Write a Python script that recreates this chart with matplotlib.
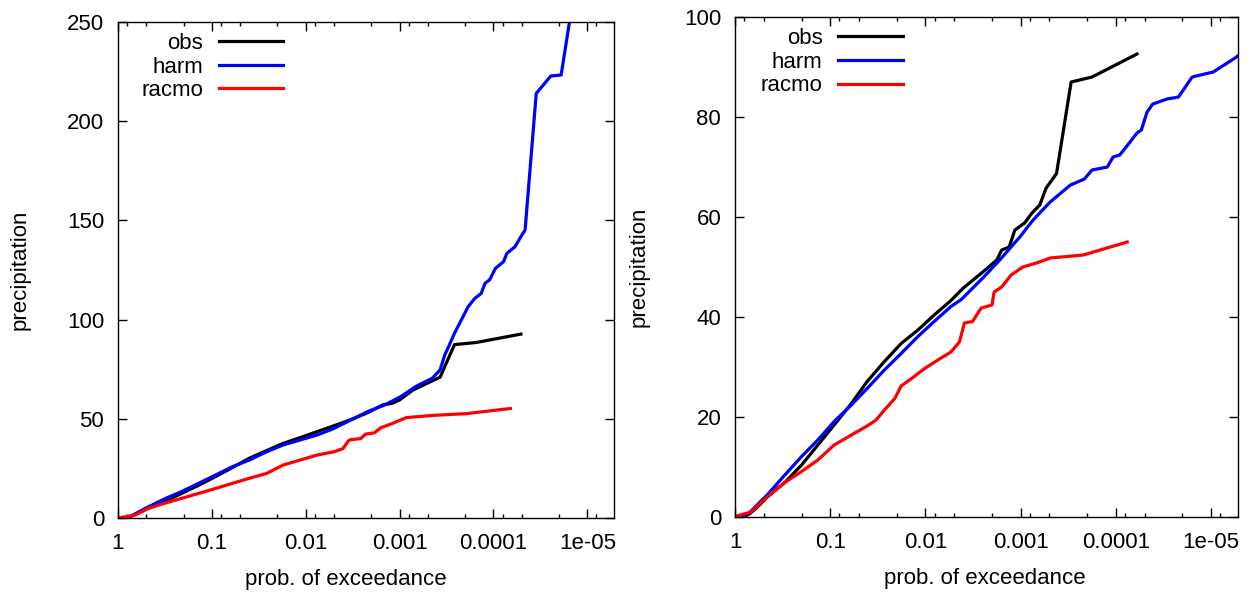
import matplotlib
matplotlib.use("Agg")
from matplotlib import pyplot as plt, ticker

plt.rcParams["font.family"] = ["Liberation Sans", "DejaVu Sans"]

# 左图数据 (prob. of exceedance, precipitation)
obs_left_p = [0.84, 0.71, 0.51, 0.31, 0.21, 0.138, 0.091, 0.060, 0.040, 0.026, 0.0174, 0.0115,
              0.0076, 0.0052, 0.0033, 0.0022, 0.00151, 0.0012, 0.001, 0.00072, 0.00037, 0.00026,
              0.000151, 5.1e-5]
obs_left_v = [0, 1.0, 4.3, 8.5, 12.4, 16.5, 20.9, 25.5, 30.1, 34.0, 37.6, 40.5,
              43.5, 46.2, 49.6, 53.0, 57.0, 57.8, 59.5, 64.5, 71.0, 87.4,
              88.5, 92.7]

harm_left_p = [0.84, 0.71, 0.51, 0.31, 0.21, 0.138, 0.091, 0.060, 0.040, 0.026, 0.0174, 0.0115,
               0.0076, 0.0052, 0.0033, 0.0022, 0.00145, 0.00098, 0.00066, 0.00045, 0.00037,
               0.00033, 0.000295, 0.00026, 0.00022, 0.000186, 0.000158, 0.000135, 0.000123,
               0.00011, 9.5e-5, 7.8e-5, 7.2e-5, 5.9e-5, 5.1e-5, 4.6e-5, 3.5e-5, 2.45e-5,
               1.9e-5, 1.55e-5, 1.26e-5]
harm_left_v = [0, 1.2, 4.9, 9.9, 13.3, 17.5, 21.7, 25.9, 29.2, 33.4, 36.8, 39.3,
               41.8, 44.8, 49.4, 53.6, 56.9, 61.1, 66.5, 70.4, 74.6,
               82.2, 87.2, 93.1, 99.8, 106.5, 110.7, 113.2, 118.3,
               120.0, 125.9, 129.2, 133.4, 136.7, 141.8, 145.2, 214.0, 222.8,
               223.3, 250.0, 277.0]

racmo_left_p = [1.0, 0.66, 0.47, 0.32, 0.21, 0.138, 0.091, 0.060, 0.040, 0.026, 0.0174, 0.0115,
                0.0076, 0.0050, 0.0040, 0.0035, 0.0033, 0.0026, 0.0023, 0.00186, 0.00158,
                0.0012, 0.00085, 0.00045, 0.000195, 6.6e-5]
racmo_left_v = [0, 1.5, 4.9, 7.4, 9.9, 12.4, 14.9, 17.5, 20.0, 22.5, 26.7, 29.2,
                31.7, 33.4, 35.0, 39.0, 39.5, 40.0, 42.3, 42.9, 45.5,
                47.6, 50.6, 51.7, 52.6, 55.2]

# 右图数据
obs_right_p = [0.83, 0.71, 0.63, 0.54, 0.46, 0.30, 0.20, 0.135, 0.091, 0.060, 0.041, 0.027,
               0.018, 0.012, 0.0081, 0.0054, 0.0040, 0.0025, 0.00178, 0.00158, 0.00132,
               0.00115, 0.00091, 0.00076, 0.00063, 0.00054, 0.00042, 0.000295, 0.000178, 6.0e-5]
obs_right_v = [0, 0.6, 1.4, 2.6, 4.0, 6.9, 10.4, 14.4, 18.4, 22.7, 27.1, 31.1,
               34.7, 37.4, 40.4, 43.3, 45.8, 49.0, 51.4, 53.4, 54.0,
               57.4, 58.8, 60.8, 62.4, 65.8, 68.7, 87.0, 88.0, 92.6]

harm_right_p = [0.83, 0.71, 0.63, 0.54, 0.46, 0.30, 0.20, 0.135, 0.091, 0.060, 0.041, 0.027,
                0.018, 0.012, 0.0081, 0.0054, 0.0042, 0.0025, 0.00166, 0.00102, 0.00074,
                0.00049, 0.0003, 0.000214, 0.000178, 0.000123, 0.000107, 9.1e-5, 7.1e-5,
                6.0e-5, 5.4e-5, 4.7e-5, 4.1e-5, 2.9e-5, 2.2e-5, 1.58e-5, 9.5e-6, 5.4e-6, 4.5e-6]
harm_right_v = [0, 0.8, 1.8, 3.1, 4.4, 8.4, 12.1, 15.4, 19.1, 22.4, 25.7, 29.4,
                32.7, 36.1, 39.1, 42.1, 43.5, 47.8, 51.4, 56.0, 59.4,
                63.0, 66.4, 67.6, 69.4, 70.0, 72.0, 72.4, 75.0,
                76.8, 77.4, 81.0, 82.6, 83.6, 84.0, 88.0, 89.0, 92.0, 93.2]

racmo_right_p = [1.0, 0.68, 0.46, 0.30, 0.20, 0.135, 0.091, 0.060, 0.041, 0.033, 0.027, 0.021,
                 0.018, 0.014, 0.0102, 0.0074, 0.0054, 0.0044, 0.0039, 0.0032, 0.0026, 0.0020,
                 0.0019, 0.00158, 0.00126, 0.00095, 0.00068, 0.00049, 0.00022, 7.6e-5]
racmo_right_v = [0.1, 1.0, 4.0, 6.9, 9.1, 11.4, 14.4, 16.4, 18.2, 19.4, 21.4, 23.7,
                 26.2, 27.7, 29.7, 31.4, 33.0, 35.0, 38.8, 39.1, 41.8, 42.4,
                 45.0, 46.0, 48.4, 50.0, 50.8, 51.8, 52.4, 55.0]

x_tick_vals = [1, 0.1, 0.01, 0.001, 0.0001, 1e-05]
x_tick_labels = ["1", "0.1", "0.01", "0.001", "0.0001", "1e-05"]
left_yticks = [0, 50, 100, 150, 200, 250]
right_yticks = [0, 20, 40, 60, 80, 100]

FS = 16


def draw_panel(ax, obs, harm, racmo, yticks):
    ax.plot(obs[0], obs[1], color="black", lw=2.3, label="obs")
    ax.plot(harm[0], harm[1], color="#0000ff", lw=2.3, label="harm")
    ax.plot(racmo[0], racmo[1], color="#ff0000", lw=2.3, label="racmo")

    ax.set_xscale("log")
    ax.set_xlim(1, 5.2e-6)
    ax.set_ylim(yticks[0], yticks[-1])

    ax.set_xticks(x_tick_vals, x_tick_labels)
    ax.xaxis.set_minor_locator(ticker.LogLocator(base=10, subs=(2, 5, 8), numticks=20))
    ax.xaxis.set_minor_formatter(ticker.NullFormatter())
    ax.set_yticks(yticks)

    # gnuplot风格的刻度: 朝内, 四边都有
    ax.tick_params(which="both", direction="in", top=True, right=True, labelsize=FS, width=1.0)
    ax.tick_params(which="major", length=6.5)
    ax.tick_params(which="minor", length=3)
    ax.tick_params(axis="x", pad=11)
    ax.tick_params(axis="y", pad=10)
    for s in ax.spines.values():
        s.set_linewidth(1.0)

    ax.set_xlabel("prob. of exceedance", fontsize=FS, va="center")
    ax.set_ylabel("precipitation", fontsize=FS, va="center")

    ax.legend(loc="upper right", bbox_to_anchor=(0.333, 0.978), frameon=False, markerfirst=False,
              fontsize=FS, handlelength=2.9, handletextpad=0.7, labelspacing=0.12,
              borderpad=0, borderaxespad=0)


fig = plt.figure(figsize=(12.52, 5.95), dpi=100)
ax1 = fig.add_axes([0.0942, 0.1294, 0.3962, 0.8336])
ax2 = fig.add_axes([0.5871, 0.1311, 0.4018, 0.8403])

draw_panel(ax1, (obs_left_p, obs_left_v), (harm_left_p, harm_left_v),
           (racmo_left_p, racmo_left_v), left_yticks)
draw_panel(ax2, (obs_right_p, obs_right_v), (harm_right_p, harm_right_v),
           (racmo_right_p, racmo_right_v), right_yticks)

ax1.xaxis.set_label_coords(0.46, -0.123)
ax1.yaxis.set_label_coords(-0.198, 0.5)
ax2.xaxis.set_label_coords(0.497, -0.123)
ax2.yaxis.set_label_coords(-0.19, 0.5)

plt.savefig("out.png", dpi=100)
plt.close()
